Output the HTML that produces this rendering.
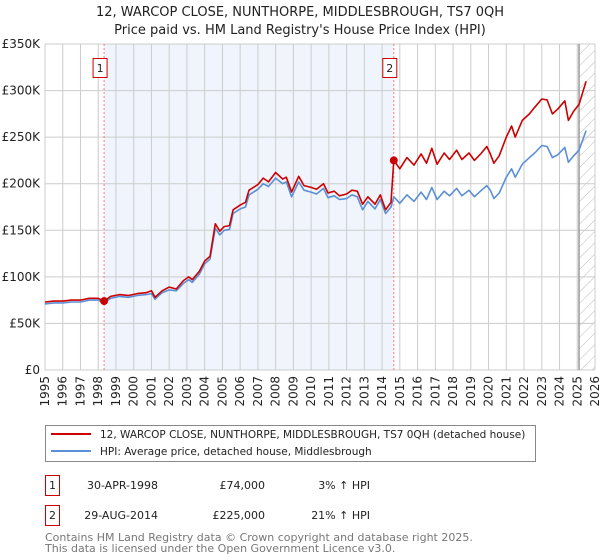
<!DOCTYPE html>
<html><head><meta charset="utf-8"><style>
html,body{margin:0;padding:0;background:#fff;}
svg{display:block;font-family:"DejaVu Sans","Liberation Sans",sans-serif;}
</style></head><body>
<svg id="chart" width="600" height="560" viewBox="0 0 600 560" xmlns="http://www.w3.org/2000/svg">
<defs>
<pattern id="hatch" patternUnits="userSpaceOnUse" width="8" height="8" patternTransform="rotate(45)">
<line x1="0" y1="0" x2="0" y2="8" stroke="#bbb" stroke-width="1"/>
</pattern>
</defs>
<text x="300" y="16" text-anchor="middle" font-size="13" fill="#222">12, WARCOP CLOSE, NUNTHORPE, MIDDLESBROUGH, TS7 0QH</text>
<text x="300" y="34" text-anchor="middle" font-size="13" fill="#222">Price paid vs. HM Land Registry's House Price Index (HPI)</text>
<g id="plot"></g>
<g>
<rect x="45.5" y="425.5" width="490" height="36" fill="#fff" stroke="#888"/>
<line x1="51" y1="434" x2="91" y2="434" stroke="#cc0000" stroke-width="2"/>
<text x="100" y="438" font-size="10.5" fill="#222">12, WARCOP CLOSE, NUNTHORPE, MIDDLESBROUGH, TS7 0QH (detached house)</text>
<line x1="51" y1="451" x2="91" y2="451" stroke="#5b8fd6" stroke-width="2"/>
<text x="100" y="455" font-size="10.5" fill="#222">HPI: Average price, detached house, Middlesbrough</text>
</g>
<g font-size="11" fill="#222">
<rect x="45.5" y="475.5" width="14" height="20" fill="#fff" stroke="#cc0000"/>
<text x="52.5" y="489" text-anchor="middle">1</text>
<text x="158" y="489" text-anchor="end">30-APR-1998</text>
<text x="265" y="489" text-anchor="end">£74,000</text>
<text x="370" y="489" text-anchor="end">3% ↑ HPI</text>
<rect x="45.5" y="505.5" width="14" height="20" fill="#fff" stroke="#cc0000"/>
<text x="52.5" y="519" text-anchor="middle">2</text>
<text x="158" y="519" text-anchor="end">29-AUG-2014</text>
<text x="265" y="519" text-anchor="end">£225,000</text>
<text x="370" y="519" text-anchor="end">21% ↑ HPI</text>
</g>
<text x="45" y="541" font-size="11" fill="#777">Contains HM Land Registry data © Crown copyright and database right 2025.</text>
<text x="45" y="552" font-size="11" fill="#777">This data is licensed under the Open Government Licence v3.0.</text>
</svg>
<script>
const years=[1995,1995.5,1996,1996.5,1997,1997.5,1998,1998.33,1998.7,1999.2,1999.7,2000.2,2000.7,2001,2001.2,2001.6,2002,2002.4,2002.8,2003.1,2003.3,2003.7,2004,2004.3,2004.6,2004.85,2005.1,2005.4,2005.6,2006,2006.3,2006.5,2007,2007.3,2007.6,2008,2008.4,2008.6,2008.9,2009.3,2009.6,2010,2010.3,2010.7,2010.95,2011.3,2011.6,2012,2012.3,2012.6,2012.9,2013.2,2013.6,2013.9,2014.2,2014.5,2014.66,2015,2015.4,2015.8,2016.2,2016.5,2016.8,2017.1,2017.5,2017.8,2018.2,2018.5,2018.9,2019.2,2019.6,2019.9,2020.1,2020.3,2020.6,2021,2021.3,2021.5,2021.9,2022.3,2022.6,2023,2023.3,2023.6,2023.9,2024.3,2024.5,2024.8,2025.1,2025.5];
const propertyValues=[73,74,74,75,75,77,77,74,79,81,80,82,83,85,78,85,89,87,96,100,97,106,117,122,157,149,154,155,172,177,180,193,199,206,202,212,205,207,191,208,198,196,194,200,190,192,187,189,193,192,178,186,178,188,172,180,225,216,228,220,232,222,238,221,233,226,236,226,233,225,233,240,232,222,230,250,262,250,268,275,282,291,290,275,280,289,268,278,285,310];
const hpiValues=[71,72,72,73,73,75,75,72,77,79,78,80,81,82,76,83,86,85,93,97,94,103,114,119,152,145,150,151,168,173,175,188,194,200,197,206,200,202,186,202,193,191,189,195,185,187,183,184,188,186,172,181,173,183,168,175,186,179,188,181,191,183,196,183,192,187,195,187,193,186,193,198,193,184,190,207,216,207,221,228,233,241,240,228,231,239,223,230,236,257];
const yTicks=[0,50,100,150,200,250,300,350];
const yTickLabels=["£0","£50K","£100K","£150K","£200K","£250K","£300K","£350K"];
const xTicks=[1995,1996,1997,1998,1999,2000,2001,2002,2003,2004,2005,2006,2007,2008,2009,2010,2011,2012,2013,2014,2015,2016,2017,2018,2019,2020,2021,2022,2023,2024,2025,2026];
const saleYears=[1998.33,2014.66];
const saleValues=[74,225];
const saleLabels=["1","2"];
const projectionStart=2025.1;

const L=45,R=595,T=44,B=370;
const x=v=>L+(v-1995)/(2026-1995)*(R-L);
const y=v=>B-v/350*(B-T);
const NS="http://www.w3.org/2000/svg";
const g=document.getElementById('plot');
function mk(tag,attrs,parent){const e=document.createElementNS(NS,tag);for(const k in attrs)e.setAttribute(k,attrs[k]);(parent||g).appendChild(e);return e;}

let sh=mk('rect',{x:x(saleYears[0]),y:T,width:x(saleYears[1])-x(saleYears[0]),height:B-T,fill:'#f0f4fc'});


let hz=mk('rect',{x:x(projectionStart),y:T,width:R-x(projectionStart),height:B-T,fill:'url(#hatch)'});



xTicks.forEach(t=>{
  const ln=mk('line',{x1:x(t),x2:x(t),y1:T,y2:B,stroke:'#ccc','stroke-width':1});
  
  
  const tx=mk('text',{x:0,y:0,'font-size':12,fill:'#222','text-anchor':'end',transform:`translate(${x(t)+4},${B+6}) rotate(-90)`});
  tx.textContent=t;
  
  
});
yTicks.forEach((t,i)=>{
  const ln=mk('line',{x1:L,x2:R,y1:y(t),y2:y(t),stroke:'#ccc','stroke-width':1});
  
  
  const tx=mk('text',{x:L-5,y:y(t)+4,'font-size':12,fill:'#222','text-anchor':'end'});
  tx.textContent=yTickLabels[i];
  
  
});
let pv=mk('line',{x1:x(projectionStart),x2:x(projectionStart),y1:T,y2:B,stroke:'#999','stroke-width':1.5});



saleYears.forEach((s,i)=>{
  const ln=mk('line',{x1:x(s),x2:x(s),y1:T,y2:B,stroke:'#f08080','stroke-width':1,'stroke-dasharray':'2,2'});
  
  
  const bx=mk('rect',{x:x(s)-11,y:58.5,width:14,height:19,fill:'#fff',stroke:'#cc0000'});
  
  
  const tx=mk('text',{x:x(s)-4,y:72,'font-size':11,fill:'#222','text-anchor':'middle'});
  tx.textContent=saleLabels[i];
  
  
});

const path=vals=>vals.map((v,i)=>(i?'L':'M')+x(years[i]).toFixed(1)+','+y(v).toFixed(1)).join('');
let hp=mk('path',{d:path(hpiValues),fill:'none',stroke:'#5b8fd6','stroke-width':1.6,'stroke-linejoin':'round'});


let pp=mk('path',{d:path(propertyValues),fill:'none',stroke:'#cc0000','stroke-width':1.6,'stroke-linejoin':'round'});


saleYears.forEach((s,i)=>{
  const c=mk('circle',{cx:x(s),cy:y(saleValues[i]),r:4,fill:'#cc0000'});
  
  
});
</script>
</body></html>
